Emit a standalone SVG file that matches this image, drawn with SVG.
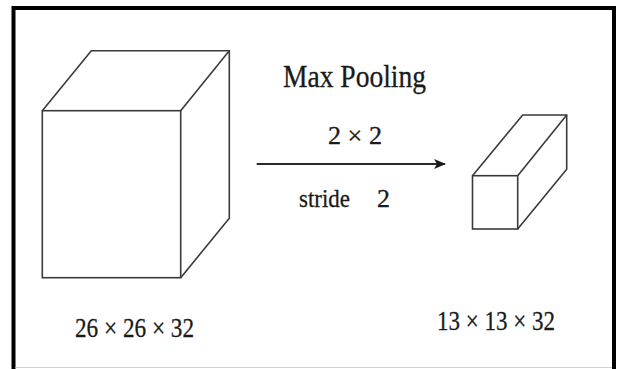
<svg xmlns="http://www.w3.org/2000/svg" width="618" height="369" viewBox="0 0 618 369">
  <defs>
    <style>
      .frame { fill: none; stroke: #000; stroke-width: 4; }
      .edge { fill: none; stroke: #3a3a3a; stroke-width: 1.6; stroke-linejoin: miter; }
      .face { fill: #fff; stroke: #3a3a3a; stroke-width: 1.6; }
      .lbl { font-family: "Liberation Serif", "Times New Roman", serif; fill: #1a1a1a; stroke: #1a1a1a; stroke-width: 0.3; }
      .conn { fill: none; stroke: #2a2a2a; stroke-width: 2; }
    </style>
    <marker id="arrow" viewBox="0 0 12 10" refX="11" refY="5" markerWidth="12" markerHeight="10" markerUnits="userSpaceOnUse" orient="auto">
      <path d="M0,0 L12,5 L0,10 L3,5 Z" fill="#1a1a1a"/>
    </marker>
  </defs>
  <rect x="0" y="0" width="618" height="369" fill="#fff"/>
  <path class="frame" d="M13.5,369 V8 H614 V369"/>
  <line x1="15.5" y1="367.5" x2="612" y2="367.5" stroke="#cfcfcf" stroke-width="1"/>

  <g id="input-volume">
    <path class="edge" d="M42.3,110.7 L91.3,50.7 L229.3,50.7 L229.3,218.3 L180.7,277.7"/>
    <path class="edge" d="M180.7,110.7 L229.3,50.7"/>
    <rect class="face" x="42.3" y="110.7" width="138.4" height="167"/>
    <text class="lbl" x="75" y="337" font-size="28" textLength="119" lengthAdjust="spacingAndGlyphs">26 × 26 × 32</text>
  </g>

  <g id="pooling-label">
    <text class="lbl" x="283" y="87" font-size="32" textLength="143" lengthAdjust="spacingAndGlyphs">Max Pooling</text>
    <text class="lbl" x="328" y="144" font-size="25" textLength="54" lengthAdjust="spacingAndGlyphs">2 × 2</text>
    <text class="lbl" x="299" y="207" font-size="26" textLength="51" lengthAdjust="spacingAndGlyphs">stride</text>
    <text class="lbl" x="377" y="207" font-size="26">2</text>
  </g>

  <g id="output-volume">
    <path class="edge" d="M472.5,175.7 L522.7,115 L566.7,115 L566.7,169.3 L517.7,229"/>
    <path class="edge" d="M517.7,175.7 L566.7,115"/>
    <rect class="face" x="472.5" y="175.7" width="45.2" height="53.3"/>
    <text class="lbl" x="437" y="329.5" font-size="28" textLength="118" lengthAdjust="spacingAndGlyphs">13 × 13 × 32</text>
  </g>

  <g id="connectors">
    <line class="conn" x1="256.7" y1="164" x2="445" y2="164" marker-end="url(#arrow)"/>
  </g>
</svg>
